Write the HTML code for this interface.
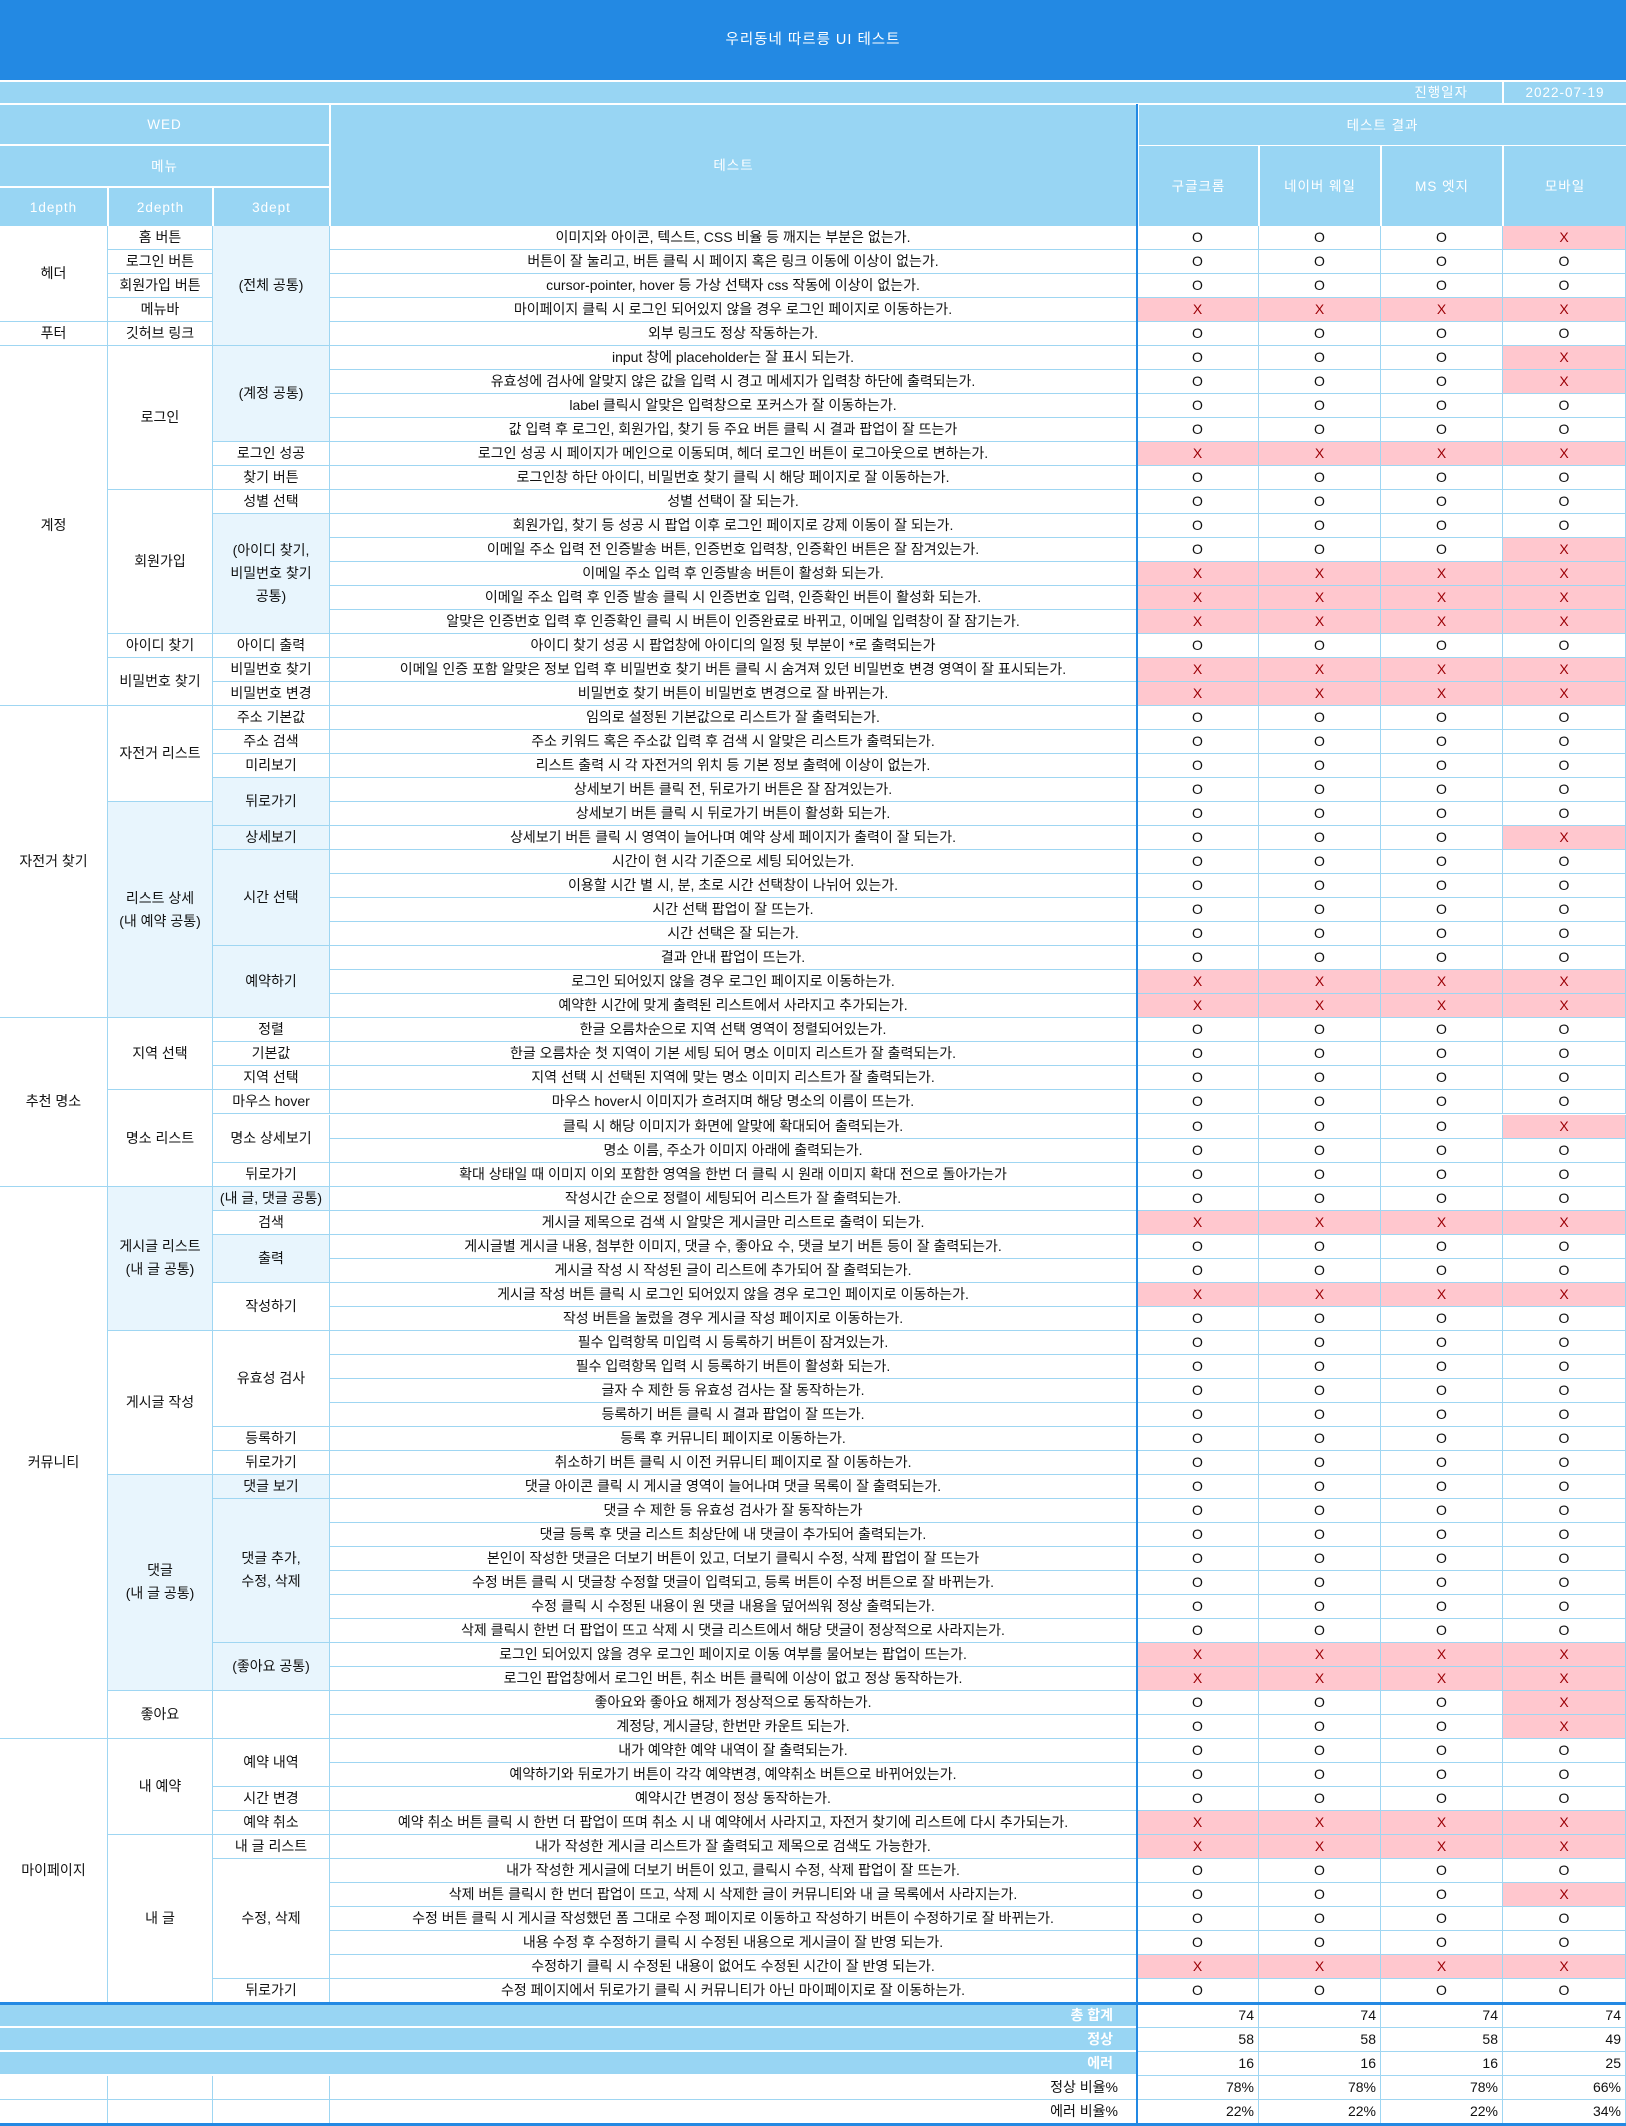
<!DOCTYPE html>
<html lang="ko">
<head>
<meta charset="utf-8">
<title>우리동네 따르릉 UI 테스트</title>
<style>
  html,body{margin:0;padding:0;background:#fff;}
  body{width:1626px;height:2126px;position:relative;overflow:hidden;
       font-family:"Liberation Sans","Noto Sans CJK KR",sans-serif;font-size:14px;color:#111;}
  .c{position:absolute;box-sizing:border-box;display:flex;align-items:center;justify-content:center;
     text-align:center;white-space:nowrap;line-height:23px;}
  .b{border-right:1px solid #9fd6f2;border-bottom:1px solid #9fd6f2;}
  .h{background:#98d5f3;color:#fff;font-size:13.5px;letter-spacing:1px;}
  .lt{background:#e8f5fd;}
  .x{background:#ffc7ce;color:#9c0006;}
  .sumlab{background:#98d5f3;color:#fff;font-weight:bold;justify-content:flex-end;padding-right:24px;border-bottom:2px solid #fff;}
  .num{justify-content:flex-end;padding-right:4px;}
</style>
</head>
<body>
<div class="c" style="left:0;top:0;width:1626px;height:80px;background:#2389e3;color:#fff;font-size:14.5px;letter-spacing:1px;">우리동네 따르릉 UI 테스트</div>
<div class="c h" style="left:0;top:82px;width:1502px;height:21px;justify-content:flex-end;padding-right:34px;">진행일자</div>
<div class="c h" style="left:1504px;top:82px;width:122px;height:21px;">2022-07-19</div>

<div class="c h" style="left:0;top:105px;width:329px;height:39px;">WED</div>
<div class="c h" style="left:0;top:146px;width:329px;height:40px;">메뉴</div>
<div class="c h" style="left:0;top:188px;width:107px;height:38px;">1depth</div>
<div class="c h" style="left:109px;top:188px;width:103px;height:38px;">2depth</div>
<div class="c h" style="left:214px;top:188px;width:115px;height:38px;">3dept</div>
<div class="c h" style="left:331px;top:105px;width:805px;height:121px;">테스트</div>
<div class="c h" style="left:1139px;top:105px;width:487px;height:40px;">테스트 결과</div>
<div class="c h" style="left:1139px;top:146px;width:119px;height:80px;">구글크롬</div>
<div class="c h" style="left:1260px;top:146px;width:120px;height:80px;">네이버 웨일</div>
<div class="c h" style="left:1382px;top:146px;width:120px;height:80px;">MS 엣지</div>
<div class="c h" style="left:1504px;top:146px;width:122px;height:80px;">모바일</div>

<div id="grid"></div>

<script>
const tests = [
"이미지와 아이콘, 텍스트, CSS 비율 등 깨지는 부분은 없는가.",
"버튼이 잘 눌리고, 버튼 클릭 시 페이지 혹은 링크 이동에 이상이 없는가.",
"cursor-pointer, hover 등 가상 선택자 css 작동에 이상이 없는가.",
"마이페이지 클릭 시 로그인 되어있지 않을 경우 로그인 페이지로 이동하는가.",
"외부 링크도 정상 작동하는가.",
"input 창에 placeholder는 잘 표시 되는가.",
"유효성에 검사에 알맞지 않은 값을 입력 시 경고 메세지가 입력창 하단에 출력되는가.",
"label 클릭시 알맞은 입력창으로 포커스가 잘 이동하는가.",
"값 입력 후 로그인, 회원가입, 찾기 등 주요 버튼 클릭 시 결과 팝업이 잘 뜨는가",
"로그인 성공 시 페이지가 메인으로 이동되며, 헤더 로그인 버튼이 로그아웃으로 변하는가.",
"로그인창 하단 아이디, 비밀번호 찾기 클릭 시 해당 페이지로 잘 이동하는가.",
"성별 선택이 잘 되는가.",
"회원가입, 찾기 등 성공 시 팝업 이후 로그인 페이지로 강제 이동이 잘 되는가.",
"이메일 주소 입력 전 인증발송 버튼, 인증번호 입력창, 인증확인 버튼은 잘 잠겨있는가.",
"이메일 주소 입력 후 인증발송 버튼이 활성화 되는가.",
"이메일 주소 입력 후 인증 발송 클릭 시 인증번호 입력, 인증확인 버튼이 활성화 되는가.",
"알맞은 인증번호 입력 후 인증확인 클릭 시 버튼이 인증완료로 바뀌고, 이메일 입력창이 잘 잠기는가.",
"아이디 찾기 성공 시 팝업창에 아이디의 일정 뒷 부분이 *로 출력되는가",
"이메일 인증 포함 알맞은 정보 입력 후 비밀번호 찾기 버튼 클릭 시 숨겨져 있던 비밀번호 변경 영역이 잘 표시되는가.",
"비밀번호 찾기 버튼이 비밀번호 변경으로 잘 바뀌는가.",
"임의로 설정된 기본값으로 리스트가 잘 출력되는가.",
"주소 키워드 혹은 주소값 입력 후 검색 시 알맞은 리스트가 출력되는가.",
"리스트 출력 시 각 자전거의 위치 등 기본 정보 출력에 이상이 없는가.",
"상세보기 버튼 클릭 전, 뒤로가기 버튼은 잘 잠겨있는가.",
"상세보기 버튼 클릭 시 뒤로가기 버튼이 활성화 되는가.",
"상세보기 버튼 클릭 시 영역이 늘어나며 예약 상세 페이지가 출력이 잘 되는가.",
"시간이 현 시각 기준으로 세팅 되어있는가.",
"이용할 시간 별 시, 분, 초로 시간 선택창이 나뉘어 있는가.",
"시간 선택 팝업이 잘 뜨는가.",
"시간 선택은 잘 되는가.",
"결과 안내 팝업이 뜨는가.",
"로그인 되어있지 않을 경우 로그인 페이지로 이동하는가.",
"예약한 시간에 맞게 출력된 리스트에서 사라지고 추가되는가.",
"한글 오름차순으로 지역 선택 영역이 정렬되어있는가.",
"한글 오름차순 첫 지역이 기본 세팅 되어 명소 이미지 리스트가 잘 출력되는가.",
"지역 선택 시 선택된 지역에 맞는 명소 이미지 리스트가 잘 출력되는가.",
"마우스 hover시 이미지가 흐려지며 해당 명소의 이름이 뜨는가.",
"클릭 시 해당 이미지가 화면에 알맞에 확대되어 출력되는가.",
"명소 이름, 주소가 이미지 아래에 출력되는가.",
"확대 상태일 때 이미지 이외 포함한 영역을 한번 더 클릭 시 원래 이미지 확대 전으로 돌아가는가",
"작성시간 순으로 정렬이 세팅되어 리스트가 잘 출력되는가.",
"게시글 제목으로 검색 시 알맞은 게시글만 리스트로 출력이 되는가.",
"게시글별 게시글 내용, 첨부한 이미지, 댓글 수, 좋아요 수, 댓글 보기 버튼 등이 잘 출력되는가.",
"게시글 작성 시 작성된 글이 리스트에 추가되어 잘 출력되는가.",
"게시글 작성 버튼 클릭 시 로그인 되어있지 않을 경우 로그인 페이지로 이동하는가.",
"작성 버튼을 눌렀을 경우 게시글 작성 페이지로 이동하는가.",
"필수 입력항목 미입력 시 등록하기 버튼이 잠겨있는가.",
"필수 입력항목 입력 시 등록하기 버튼이 활성화 되는가.",
"글자 수 제한 등 유효성 검사는 잘 동작하는가.",
"등록하기 버튼 클릭 시 결과 팝업이 잘 뜨는가.",
"등록 후 커뮤니티 페이지로 이동하는가.",
"취소하기 버튼 클릭 시 이전 커뮤니티 페이지로 잘 이동하는가.",
"댓글 아이콘 클릭 시 게시글 영역이 늘어나며 댓글 목록이 잘 출력되는가.",
"댓글 수 제한 등 유효성 검사가 잘 동작하는가",
"댓글 등록 후 댓글 리스트 최상단에 내 댓글이 추가되어 출력되는가.",
"본인이 작성한 댓글은 더보기 버튼이 있고, 더보기 클릭시 수정, 삭제 팝업이 잘 뜨는가",
"수정 버튼 클릭 시 댓글창 수정할 댓글이 입력되고, 등록 버튼이 수정 버튼으로 잘 바뀌는가.",
"수정 클릭 시 수정된 내용이 원 댓글 내용을 덮어씌워 정상 출력되는가.",
"삭제 클릭시 한번 더 팝업이 뜨고 삭제 시 댓글 리스트에서 해당 댓글이 정상적으로 사라지는가.",
"로그인 되어있지 않을 경우 로그인 페이지로 이동 여부를 물어보는 팝업이 뜨는가.",
"로그인 팝업창에서 로그인 버튼, 취소 버튼 클릭에 이상이 없고 정상 동작하는가.",
"좋아요와 좋아요 해제가 정상적으로 동작하는가.",
"계정당, 게시글당, 한번만 카운트 되는가.",
"내가 예약한 예약 내역이 잘 출력되는가.",
"예약하기와 뒤로가기 버튼이 각각 예약변경, 예약취소 버튼으로 바뀌어있는가.",
"예약시간 변경이 정상 동작하는가.",
"예약 취소 버튼 클릭 시 한번 더 팝업이 뜨며 취소 시 내 예약에서 사라지고, 자전거 찾기에 리스트에 다시 추가되는가.",
"내가 작성한 게시글 리스트가 잘 출력되고 제목으로 검색도 가능한가.",
"내가 작성한 게시글에 더보기 버튼이 있고, 클릭시 수정, 삭제 팝업이 잘 뜨는가.",
"삭제 버튼 클릭시 한 번더 팝업이 뜨고, 삭제 시 삭제한 글이 커뮤니티와 내 글 목록에서 사라지는가.",
"수정 버튼 클릭 시 게시글 작성했던 폼 그대로 수정 페이지로 이동하고 작성하기 버튼이 수정하기로 잘 바뀌는가.",
"내용 수정 후 수정하기 클릭 시 수정된 내용으로 게시글이 잘 반영 되는가.",
"수정하기 클릭 시 수정된 내용이 없어도 수정된 시간이 잘 반영 되는가.",
"수정 페이지에서 뒤로가기 클릭 시 커뮤니티가 아닌 마이페이지로 잘 이동하는가."
];
const chrome = "OOOXOOOOOXOOOOXXXOXXOOOOOOOOOOOXXOOOOOOOOXOOXOOOOOOOOOOOOOOXXOOOOOXXOOOOXO".split("");
const whale  = "OOOXOOOOOXOOOOXXXOXXOOOOOOOOOOOXXOOOOOOOOXOOXOOOOOOOOOOOOOOXXOOOOOXXOOOOXO".split("");
const edge   = "OOOXOOOOOXOOOOXXXOXXOOOOOOOOOOOXXOOOOOOOOXOOXOOOOOOOOOOOOOOXXOOOOOXXOOOOXO".split("");
const mobile = "XOOXOXXOOXOOOXXXXOXXOOOOOXOOOOOXXOOOOXOOOXOOXOOOOOOOOOOOOOOXXXXOOOXXOXOOXO".split("");
const depth1 = [["헤더",4],["푸터",1],["계정",15],["자전거 찾기",13],["추천 명소",7],["커뮤니티",23],["마이페이지",11]];
const depth2 = [["홈 버튼",1,0],["로그인 버튼",1,0],["회원가입 버튼",1,0],["메뉴바",1,0],["깃허브 링크",1,0],["로그인",6,0],["회원가입",6,0],["아이디 찾기",1,0],["비밀번호 찾기",2,0],["자전거 리스트",4,0],["리스트 상세<br>(내 예약 공통)",9,1],["지역 선택",3,0],["명소 리스트",4,0],["게시글 리스트<br>(내 글 공통)",6,1],["게시글 작성",6,0],["댓글<br>(내 글 공통)",9,1],["좋아요",2,0],["내 예약",4,0],["내 글",7,0]];
const depth3 = [["(전체 공통)",5,1],["(계정 공통)",4,1],["로그인 성공",1,0],["찾기 버튼",1,0],["성별 선택",1,0],["(아이디 찾기,<br>비밀번호 찾기<br>공통)",5,1],["아이디 출력",1,0],["비밀번호 찾기",1,0],["비밀번호 변경",1,0],["주소 기본값",1,0],["주소 검색",1,0],["미리보기",1,0],["뒤로가기",2,1],["상세보기",1,1],["시간 선택",4,1],["예약하기",3,1],["정렬",1,0],["기본값",1,0],["지역 선택",1,0],["마우스 hover",1,0],["명소 상세보기",2,0],["뒤로가기",1,0],["(내 글, 댓글 공통)",1,1],["검색",1,0],["출력",2,1],["작성하기",2,0],["유효성 검사",4,0],["등록하기",1,0],["뒤로가기",1,0],["댓글 보기",1,1],["댓글 추가,<br>수정, 삭제",6,1],["(좋아요 공통)",2,1],["",2,0],["예약 내역",2,0],["시간 변경",1,0],["예약 취소",1,0],["내 글 리스트",1,0],["수정, 삭제",5,0],["뒤로가기",1,0]];
const summaryLabels = ["총 합계","정상","에러","정상 비율%","에러 비율%"];

const grid = document.getElementById('grid');
const X = [0,108,213,330,1137,1259,1381,1503,1626];
const TOP = 226, BOT = 2003;
const RH = (BOT-TOP)/tests.length;
function rowY(i){ return TOP + i*RH; }
function cell(x0,x1,y0,y1,html,cls){
  const d = document.createElement('div');
  d.className = 'c b ' + (cls||'');
  d.style.left = x0+'px'; d.style.top = y0+'px';
  d.style.width = (x1-x0)+'px'; d.style.height = (y1-y0)+'px';
  d.innerHTML = html;
  grid.appendChild(d);
  return d;
}
function groups(arr, c0, c1, nm){
  let r = 0;
  arr.forEach(g => {
    const d = cell(X[c0], X[c1], rowY(r), rowY(r+g[1]), g[0], g[2] ? 'lt' : '');
    
    
    r += g[1];
  });
}
groups(depth1.map(g=>[g[0],g[1],0]), 0, 1, 'depth1-cell');
groups(depth2, 1, 2, 'depth2-cell');
groups(depth3, 2, 3, 'depth3-cell');
const series = [chrome, whale, edge, mobile];
tests.forEach((t,i) => {
  const d = cell(X[3], X[4], rowY(i), rowY(i+1), t, '');
  
  
  series.forEach((s,k) => {
    const v = s[i];
    const e = cell(X[4+k], X[5+k], rowY(i), rowY(i+1), v, v === 'X' ? 'x' : '');
    
    
  });
});

// summary
const SY = [2004,2028,2052,2076,2100,2124];
const totals = series.map(s => s.length);
const oks = series.map(s => s.filter(v => v === 'O').length);
const errs = series.map(s => s.filter(v => v === 'X').length);
const sumVals = [
  totals.map(String), oks.map(String), errs.map(String),
  oks.map((v,k) => Math.round(v/totals[k]*100)+'%'),
  errs.map((v,k) => Math.round(v/totals[k]*100)+'%')
];
summaryLabels.forEach((lab,r) => {
  if (r < 3) {
    const d = document.createElement('div');
    d.className = 'c sumlab';
    d.style.left='0px'; d.style.top=SY[r]+'px'; d.style.width='1137px'; d.style.height=(SY[r+1]-SY[r])+'px';
    d.textContent = lab;
    
    
    grid.appendChild(d);
  } else {
    for (let c=0;c<3;c++){
      const e = cell(X[c], X[c+1], SY[r], SY[r+1], '', '');
      
      
    }
    const d = cell(X[3], X[4], SY[r], SY[r+1], lab, 'num');
    d.style.paddingRight = '18px';
    
    
  }
  sumVals[r].forEach((v,k) => {
    const e = cell(X[4+k], X[5+k], SY[r], SY[r+1], v, 'num');
    
    
  });
});

// blue lines
function line(x,y,w,h,nm){
  const d = document.createElement('div');
  d.style.cssText = 'position:absolute;background:#2389e3;left:'+x+'px;top:'+y+'px;width:'+w+'px;height:'+h+'px;';
  
  
  grid.appendChild(d);
}
line(1136,104,2,2022,'result-divider');
line(0,2002,1626,3,'summary-top-line');
line(0,2123,1626,3,'summary-bottom-line');
</script>
</body>
</html>
